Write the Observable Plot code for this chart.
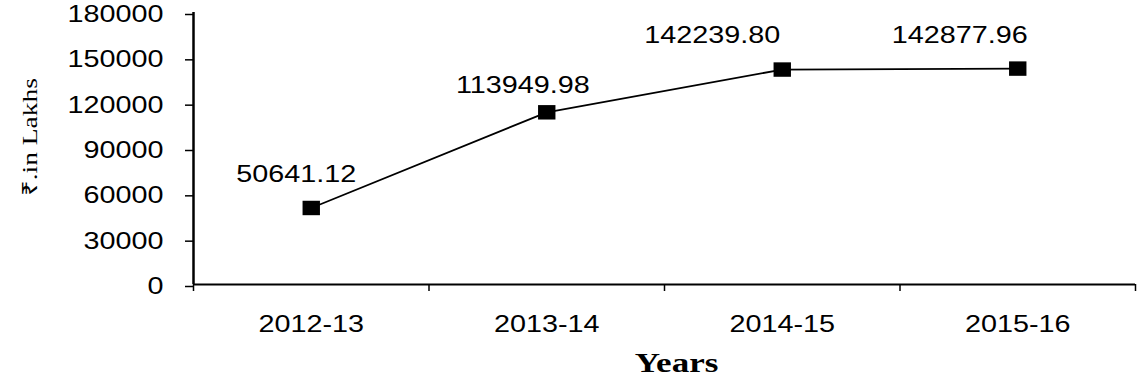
<!DOCTYPE html>
<html><head><meta charset="utf-8">
<script src="https://cdn.jsdelivr.net/npm/d3@7"></script>
<script src="https://cdn.jsdelivr.net/npm/@observablehq/plot@0.6"></script>
<style>body{margin:0;background:#fff}</style>
</head><body>
<div id="chart"></div>
<script>
const years = ["2012-13", "2013-14", "2014-15", "2015-16"];
const values = [50641.12, 113949.98, 142239.80, 142877.96];
const yTicks = [0, 30000, 60000, 90000, 120000, 150000, 180000];
const yTitle = "₹.in Lakhs";
const xTitle = "Years";

const data = years.map((y, i) => ({year: y, value: values[i], i, label: d3.format(".2f")(values[i])}));
const labelOffsets = [[-15, -26], [-24, -19], [-70, -27], [-58, -26]];
const serif = "'Liberation Serif', 'Times New Roman', serif";

const squareSym = {draw(ctx, size) { const s = Math.sqrt(size / Math.PI); ctx.rect(-s, -s * 0.83, 2 * s, 2 * s * 0.83); }};
const xc = d => d.i + 0.5;

const chart = Plot.plot({
  width: 1137, height: 382,
  marginLeft: 193, marginRight: 2, marginTop: 12, marginBottom: 98,
  style: {fontFamily: "'Liberation Sans', Arial, sans-serif", fontSize: "23px", color: "#000", background: "#fff"},
  x: {type: "linear", domain: [0, years.length], label: null},
  y: {domain: [0, 180000], label: null},
  marks: [
    Plot.axisY({ticks: yTicks, tickSize: 8, tickPadding: 22, tickFormat: d3.format("d"), strokeWidth: 1.5, dy: 2, label: null}),
    Plot.axisX({ticks: d3.range(years.length + 1), tickSize: 7, tickFormat: () => "", strokeWidth: 1.5, label: null}),
    Plot.axisX({ticks: years.map((_, i) => i + 0.5), tickSize: 0, tickPadding: 31, tickFormat: d => years[Math.floor(d)], label: null}),
    Plot.ruleX([0], {strokeWidth: 2.5}),
    Plot.ruleY([0], {strokeWidth: 2}),
    Plot.line(data, {x: xc, y: "value", stroke: "#000", strokeWidth: 1.8}),
    Plot.dot(data, {x: xc, y: "value", r: 8.7, symbol: squareSym, fill: "#000"}),
    ...data.map((d, k) => Plot.text([d], {x: xc, y: "value", text: "label", lineAnchor: "bottom", dx: labelOffsets[k][0], dy: labelOffsets[k][1], fill: "#000"})),
    Plot.text([yTitle], {frameAnchor: "left", textAnchor: "middle", lineAnchor: "middle", rotate: -90, dx: -163, dy: -11.5, fontFamily: serif, fontSize: "21px", fontWeight: "normal", text: d => d, fill: "#000"}),
    Plot.text([xTitle], {frameAnchor: "bottom", lineAnchor: "bottom", dx: 12, dy: 87, fontFamily: serif, fontWeight: "bold", fontSize: 28, text: d => d, fill: "#000"})
  ]
});
document.getElementById("chart").append(chart);
chart.querySelectorAll("text").forEach(t => {
  if (t.textContent === yTitle) {
    t.setAttribute("textLength", 118);
    t.setAttribute("lengthAdjust", "spacingAndGlyphs");
    return;
  }
  const L = t.getComputedTextLength();
  if (!L) return;
  t.setAttribute("textLength", L * 1.25);
  t.setAttribute("lengthAdjust", "spacingAndGlyphs");
});
</script>
</body></html>
